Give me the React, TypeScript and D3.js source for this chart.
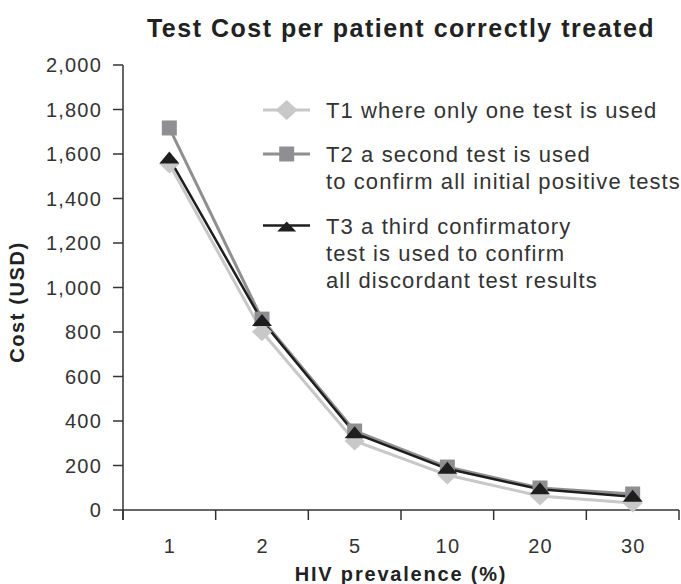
import React from 'react';
import * as d3 from 'd3';

const categories = ['1', '2', '5', '10', '20', '30'];
const t1Values = [1555, 801, 310, 157, 63, 31];
const t2Values = [1717, 858, 355, 193, 99, 72];
const t3Values = [1580, 850, 345, 185, 93, 60];
const yTicks = [0, 200, 400, 600, 800, 1000, 1200, 1400, 1600, 1800, 2000];
const legendT1 = ['T1 where only one test is used'];
const legendT2 = ['T2 a second test is used', 'to confirm all initial positive tests'];
const legendT3 = ['T3 a third confirmatory', 'test is used to confirm', 'all discordant test results'];
const titleText = 'Test Cost per patient correctly treated';
const xTitle = 'HIV prevalence (%)';
const yTitle = 'Cost (USD)';

const W = 681;
const H = 584;
const FONT = '"Liberation Sans", Arial, Helvetica, sans-serif';
const C1 = '#c8c8c8';
const C2 = '#8f8f91';
const C3 = '#1e1e1e';
const AX = '#333333';
const TXT = '#333333';

const x = d3.scaleBand<string>().domain(categories).range([123, 679]).padding(0);
const y = d3.scaleLinear().domain([0, 2000]).range([510, 65]);
const fmt = d3.format(',');

const diamond = (cx: number, cy: number, hw: number, hh: number) =>
  `M${cx},${cy - hh}L${cx + hw},${cy}L${cx},${cy + hh}L${cx - hw},${cy}Z`;
const square = (cx: number, cy: number, s: number) =>
  `M${cx - s / 2},${cy - s / 2}h${s}v${s}h${-s}Z`;
const triangle = (cx: number, cy: number, w: number, up: number, down: number) =>
  `M${cx},${cy - up}L${cx + w / 2},${cy + down}L${cx - w / 2},${cy + down}Z`;

export default function App() {
  const cx = (c: string) => (x(c) as number) + x.bandwidth() / 2;
  const line = d3
    .line<number>()
    .x((_, i) => cx(categories[i]))
    .y((d) => y(d));
  const boundaries = [...categories.map((c) => x(c) as number), 679];

  const legendRows = [
    { lines: legendT1, y: 110, color: C1, kind: 'd', w: 3 },
    { lines: legendT2, y: 154, color: C2, kind: 's', w: 3 },
    { lines: legendT3, y: 225.5, color: C3, kind: 't', w: 2.5 },
  ];

  return (
    <svg width={W} height={H} style={{ position: 'absolute', left: 0, top: 0, background: '#fff' }}>
      <text x={401} y={37} textAnchor="middle" fontFamily={FONT} fontSize={25} fontWeight="bold"
        letterSpacing={1.5} fill="#222">{titleText}</text>

      {/* Y axis */}
      <line x1={123} x2={123} y1={y(2000)} y2={520} stroke={AX} strokeWidth={1.5} />
      {yTicks.map((t) => (
        <g key={t}>
          <line x1={113} x2={123} y1={y(t)} y2={y(t)} stroke={AX} strokeWidth={1.5} />
          <text x={102} y={y(t) + 7} textAnchor="end" fontFamily={FONT} fontSize={20}
            letterSpacing={1.2} fill={TXT}>{fmt(t)}</text>
        </g>
      ))}
      <text transform={`translate(24,${302}) rotate(-90)`} textAnchor="middle" fontFamily={FONT}
        fontSize={20} fontWeight="bold" letterSpacing={1.6} fill="#222">{yTitle}</text>

      {/* X axis */}
      <line x1={123} x2={679} y1={510} y2={510} stroke={AX} strokeWidth={1.5} />
      {boundaries.map((b, i) => (
        <line key={i} x1={b} x2={b} y1={510} y2={520} stroke={AX} strokeWidth={1.5} />
      ))}
      {categories.map((c) => (
        <text key={c} x={cx(c) + 0.6} y={553} textAnchor="middle" fontFamily={FONT} fontSize={20}
          letterSpacing={1.2} fill={TXT}>{c}</text>
      ))}
      <text x={401} y={581} textAnchor="middle" fontFamily={FONT} fontSize={20} fontWeight="bold"
        letterSpacing={1.8} fill="#222">{xTitle}</text>

      {/* Lines */}
      <path d={line(t1Values) || ''} fill="none" stroke={C1} strokeWidth={3} />
      <path d={line(t2Values) || ''} fill="none" stroke={C2} strokeWidth={3} />
      <path d={line(t3Values) || ''} fill="none" stroke={C3} strokeWidth={2.5} />

      {/* Markers */}
      {t2Values.map((v, i) => (
        <path key={'s' + i} d={square(cx(categories[i]), y(v), 15)} fill={C2} />
      ))}
      {t1Values.map((v, i) => (
        <path key={'d' + i} d={diamond(cx(categories[i]), y(v), 10, 9.5)} fill={C1} />
      ))}
      {t3Values.map((v, i) => (
        <path key={'t' + i} d={triangle(cx(categories[i]), y(v), 20, 7, 5)} fill={C3} />
      ))}

      {/* Legend */}
      {legendRows.map((r, k) => (
        <g key={k}>
          <line x1={263} x2={310} y1={r.y} y2={r.y} stroke={r.color} strokeWidth={r.w} />
          {r.kind === 'd' && <path d={diamond(286.7, r.y, 11, 10)} fill={r.color} />}
          {r.kind === 's' && <path d={square(286.7, r.y, 15)} fill={r.color} />}
          {r.kind === 't' && <path d={triangle(286.7, r.y, 19, 4, 6)} fill={r.color} />}
          {r.lines.map((l, j) => (
            <text key={j} x={326} y={r.y + 8 + j * 27.3} fontFamily={FONT} fontSize={22}
              letterSpacing={1.1} fill={TXT}>{l}</text>
          ))}
        </g>
      ))}
    </svg>
  );
}
